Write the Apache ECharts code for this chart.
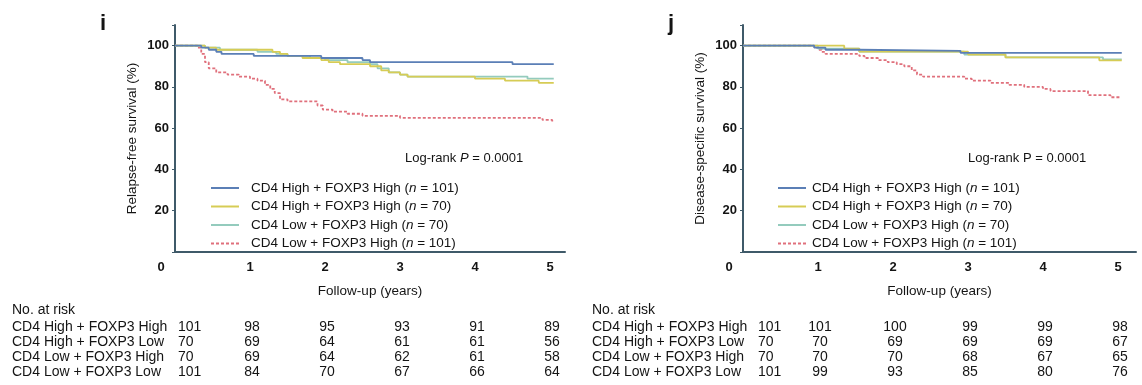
<!DOCTYPE html>
<html><head><meta charset="utf-8">
<script src="https://cdn.jsdelivr.net/npm/echarts@6/dist/echarts.min.js"></script>
<style>html,body{margin:0;padding:0;background:#fff}#c{width:1142px;height:385px}</style>
</head><body><div id="c"></div>
<script>
// ---- data ----
const years = [0, 1, 2, 3, 4, 5];
const groupNames = ['CD4 High + FOXP3 High', 'CD4 High + FOXP3 Low', 'CD4 Low + FOXP3 High', 'CD4 Low + FOXP3 Low'];
const legendGroups = ['CD4 High + FOXP3 High', 'CD4 High + FOXP3 High', 'CD4 Low + FOXP3 High', 'CD4 Low + FOXP3 High'];
const legendN = ['101', '70', '70', '101'];
const colors = ['#5b7fb6', '#d6cc55', '#94cbbd', '#e0707c'];

// Relapse-free survival (%) : [years, survival]
const rfsHighHigh = [[0,100],[0.35,99],[0.45,98],[0.55,97],[0.62,96],[1.05,95],[1.95,94],[2.5,93],[2.6,92],[4.5,91],[5.05,91]];
const rfsHighLow  = [[0,100],[0.4,99],[0.55,98],[1.3,97],[1.4,96],[1.5,95],[1.7,94],[1.95,93],[2.05,92],[2.2,91],[2.6,90],[2.75,88],[2.85,87],[3.0,86],[3.1,85],[4.0,84],[4.4,83],[4.85,82],[5.05,82]];
const rfsLowHigh  = [[0,100],[0.4,99],[0.6,98],[1.1,97],[1.35,96],[1.5,95],[1.8,94],[2.0,93],[2.3,92],[2.6,91],[2.7,89],[2.85,87],[3.0,86],[3.1,85],[4.2,85],[4.7,84],[5.05,84]];
const rfsLowLow   = [[0,100],[0.3,99],[0.35,96],[0.4,92],[0.45,89],[0.55,87],[0.7,86],[0.85,85],[1.0,84],[1.1,83],[1.2,81],[1.27,79],[1.33,77],[1.4,74],[1.5,73],[1.9,71],[1.97,69],[2.1,68],[2.3,67],[2.5,66],[3.0,65],[4.9,64],[5.03,63]];

// Disease-specific survival (%)
const dssHighHigh = [[0,100],[0.95,99],[1.1,98],[1.55,97.5],[2.9,96.5],[5.05,96.5]];
const dssHighLow  = [[0,100],[1.35,98.6],[1.55,97.1],[3.0,95.7],[3.5,94.3],[4.75,92.9],[5.05,92.9]];
const dssLowHigh  = [[0,100],[1.0,98.6],[1.55,97.1],[2.95,95.7],[3.5,94.3],[4.8,93.3],[5.05,93.3]];
const dssLowLow   = [[0,100],[0.95,99],[1.0,98],[1.05,97],[1.1,96],[1.55,95],[1.62,94],[1.8,93],[1.93,92],[2.05,91],[2.15,90],[2.25,88],[2.32,86],[2.4,85],[2.95,84],[3.05,83],[3.3,82],[3.55,81],[3.75,80],[4.0,79],[4.1,78],[4.6,76],[4.9,75],[5.03,74.5]];

// Numbers at risk
const riskRfs = [[101,98,95,93,91,89],[70,69,64,61,61,56],[70,69,64,62,61,58],[101,84,70,67,66,64]];
const riskDss = [[101,101,100,99,99,98],[70,70,69,69,69,67],[70,70,70,68,67,65],[101,99,93,85,80,76]];

// ---- chart ----
const FONT = "'Liberation Sans', Arial, sans-serif";
const TXT = '#141414';
const AXC = '#3f5a69';
const chart = echarts.init(document.getElementById('c'), null, {renderer: 'canvas'});

function xAxisCfg(gi, max) {
  return {
    type: 'value', gridIndex: gi, min: 0, max: max, interval: 1,
    name: 'Follow-up (years)', nameLocation: 'middle', nameGap: 32,
    nameTextStyle: {fontFamily: FONT, fontSize: 13.5, color: TXT},
    axisLine: {show: true, lineStyle: {color: AXC, width: 2}},
    axisTick: {show: false}, splitLine: {show: false},
    axisLabel: {
      margin: 9, fontFamily: FONT, fontSize: 13, fontWeight: 'bold', color: TXT,
      formatter: v => v === 0 ? '{z|0}' : (Math.abs(v - Math.round(v)) < 1e-9 ? String(v) : ''),
      rich: {z: {fontFamily: FONT, fontSize: 13, fontWeight: 'bold', color: TXT, padding: [0, 28, 0, 0]}}
    }
  };
}
function yAxisCfg(gi, name) {
  return {
    type: 'value', gridIndex: gi, min: 0, max: 110, interval: 20,
    name: name, nameLocation: 'middle', nameGap: 36,
    nameTextStyle: {fontFamily: FONT, fontSize: 13.5, color: TXT},
    axisLine: {show: true, lineStyle: {color: AXC, width: 2}},
    axisTick: {show: true, length: 3, lineStyle: {color: AXC}},
    splitLine: {show: false},
    axisLabel: {margin: 6, fontFamily: FONT, fontSize: 13, fontWeight: 'bold', color: TXT,
      formatter: v => (v > 0 && v <= 100) ? String(v) : ''}
  };
}
function seriesCfg(prefix, gi, datas) {
  return datas.map((d, i) => ({
    type: 'line', name: prefix + groupNames[i], xAxisIndex: gi, yAxisIndex: gi,
    data: d, step: 'end', symbol: 'none', animation: false,
    lineStyle: {color: colors[i], width: 1.8, type: i === 3 ? [3, 2] : 'solid'},
    itemStyle: {color: colors[i]}, z: 10 - i
  }));
}
function legendCfg(prefix, left, padLeft) {
  return {
    orient: 'vertical', left: left, top: 176, itemWidth: 28, itemHeight: 14, itemGap: 4.5,
    data: groupNames.map(g => prefix + g),
    itemStyle: {opacity: 0},
    formatter: name => {
      const i = groupNames.indexOf(name.slice(prefix.length));
      return legendGroups[i] + ' ({it|n} = ' + legendN[i] + ')';
    },
    textStyle: {fontFamily: FONT, fontSize: 13.5, color: TXT, lineHeight: 14, padding: [0, 0, 0, padLeft],
      rich: {it: {fontFamily: FONT, fontSize: 13.5, fontStyle: 'italic', color: TXT}}},
    selectedMode: false
  };
}

chart.setOption({
  backgroundColor: '#ffffff',
  animation: false,
  grid: [
    {left: 175, top: 25, width: 390, height: 227, outerBoundsMode: 'none'},
    {left: 743, top: 25, width: 393, height: 227, outerBoundsMode: 'none'}
  ],
  xAxis: [xAxisCfg(0, 5.2), xAxisCfg(1, 5.24)],
  yAxis: [yAxisCfg(0, 'Relapse-free survival (%)'), yAxisCfg(1, 'Disease-specific survival (%)')],
  legend: [legendCfg('RFS: ', 205, 7), legendCfg('DSS: ', 772, 1)],
  series: seriesCfg('RFS: ', 0, [rfsHighHigh, rfsHighLow, rfsLowHigh, rfsLowLow])
    .concat(seriesCfg('DSS: ', 1, [dssHighHigh, dssHighLow, dssLowHigh, dssLowLow]))
});

// ---- annotations and at-risk table ----
const graphics = [];
function txt(x, y, s, opt) {
  graphics.push({type: 'text', x: x, y: y, silent: true,
    style: Object.assign({text: s, fontFamily: FONT, fontSize: 14, fill: TXT,
      verticalAlign: 'middle', align: 'left'}, opt || {})});
}
txt(100, 24, 'i', {fontSize: 22, fontWeight: 'bold'});
txt(668, 24, 'j', {fontSize: 22, fontWeight: 'bold'});
txt(405, 158, 'Log-rank {it|P} = 0.0001', {fontSize: 13,
  rich: {it: {fontFamily: FONT, fontSize: 13, fontStyle: 'italic', fill: TXT}}});
txt(968, 158, 'Log-rank P = 0.0001', {fontSize: 13});

const rowY = [327, 342, 357, 372];
function table(gi, labelX, risk) {
  txt(labelX, 310, 'No. at risk');
  risk.forEach((row, r) => {
    txt(labelX, rowY[r], groupNames[r]);
    row.forEach((v, c) => {
      if (c === 0) {
        txt(labelX + 166, rowY[r], String(v));
      } else {
        const px = chart.convertToPixel({gridIndex: gi}, [years[c], 0])[0];
        txt(px + 2, rowY[r], String(v), {align: 'center'});
      }
    });
  });
}
table(0, 12, riskRfs);
table(1, 592, riskDss);
chart.setOption({graphic: graphics});
</script></body></html>
